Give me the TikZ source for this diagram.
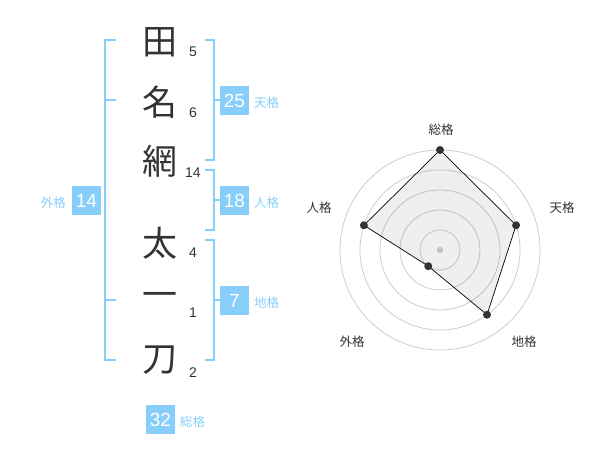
\documentclass[tikz,border=0pt]{standalone}
\usepackage{fontspec}
\setmainfont{Liberation Sans}
\newfontfamily\cjk{Noto Sans CJK JP}
\definecolor{sky}{HTML}{87CEFA}
\definecolor{ink}{HTML}{333333}
\definecolor{ring}{HTML}{CCCCCC}
\begin{document}
\begin{tikzpicture}[x=1pt,y=-1pt,
  kanji/.style={font=\cjk\fontsize{35}{35}\selectfont,text=ink,inner sep=0pt},
  strokes/.style={font=\fontsize{14}{14}\selectfont,text=ink,inner sep=0pt},
  numbox/.style={fill=sky,text=white,minimum width=29pt,minimum height=29pt,inner sep=0pt,font=\fontsize{19}{19}\selectfont},
  lbl/.style={text=sky,font=\cjk\fontsize{12.5}{12.5}\selectfont,inner sep=0pt},
  brk/.style={draw=sky,line width=2pt},
  rlbl/.style={text=ink,font=\cjk\fontsize{12.5}{12.5}\selectfont,inner sep=0pt},
  ringc/.style={draw=ring,line width=0.8pt},
  pt/.style={circle,fill=ink,inner sep=0pt,minimum size=8pt}
]
\useasboundingbox (0,0) rectangle (600,470);
% kanji
\node[kanji] (k1) at (160,42) {田};
\node[kanji] (k2) at (160,102) {名};
\node[kanji] (k3) at (160,161) {網};
\node[kanji] (k4) at (160,243) {太};
\node[kanji] (k5) at (160,300) {一};
\node[kanji] (k6) at (160,360) {刀};
% stroke counts
\node[strokes] (s1) at (193,52) {5};
\node[strokes] (s2) at (193,113) {6};
\node[strokes] (s3) at (193,173) {14};
\node[strokes] (s4) at (193,253) {4};
\node[strokes] (s5) at (193,313) {1};
\node[strokes] (s6) at (193,373) {2};
% left bracket
\draw[brk] (116,40) -- (105,40) -- (105,360) -- (116,360);
\draw[brk] (105,100) -- (116,100);
\draw[brk] (105,300) -- (116,300);
% right brackets
\draw[brk] (205,40) -- (214,40) -- (214,160) -- (205,160);
\draw[brk] (214,100) -- (220,100);
\draw[brk] (205,170) -- (214,170) -- (214,230) -- (205,230);
\draw[brk] (214,200) -- (220,200);
\draw[brk] (205,240) -- (214,240) -- (214,360) -- (205,360);
\draw[brk] (214,300) -- (220,300);
% boxes
\node[numbox] (gai) at (86.5,200.5) {14};
\node[lbl,anchor=east] (gail) at (66,203) {外格};
\node[numbox] (ten) at (234.5,100.5) {25};
\node[lbl,anchor=west] (tenl) at (254,103) {天格};
\node[numbox] (jin) at (234.5,200.5) {18};
\node[lbl,anchor=west] (jinl) at (254,203) {人格};
\node[numbox] (chi) at (234.5,300.5) {7};
\node[lbl,anchor=west] (chil) at (254,303) {地格};
\node[numbox] (sou) at (160.5,419.5) {32};
\node[lbl,anchor=west] (soul) at (180,422) {総格};
% radar
\coordinate (c) at (440,250);
\foreach \r in {20,40,60,80,100} \draw[ringc] (c) circle[radius=\r];
\fill[ring] (c) circle[radius=3.2];
\coordinate (p1) at (440,150);
\coordinate (p2) at ({440+80*cos(18)},{250-80*sin(18)});
\coordinate (p3) at ({440+80*cos(54)},{250+80*sin(54)});
\coordinate (p4) at ({440-20*cos(54)},{250+20*sin(54)});
\coordinate (p5) at ({440-80*cos(18)},{250-80*sin(18)});
\filldraw[fill=ink,fill opacity=0.08,draw=black,line width=0.7pt] (p1) -- (p2) -- (p3) -- (p4) -- (p5) -- cycle;
\foreach \p in {p1,p2,p3,p4,p5} \node[pt] at (\p) {};
\node[rlbl] (r1) at (441,130) {総格};
\node[rlbl] (r2) at (562,208) {天格};
\node[rlbl] (r3) at (524,342) {地格};
\node[rlbl] (r4) at (352,342) {外格};
\node[rlbl] (r5) at (319,208) {人格};
\end{tikzpicture}
\end{document}
